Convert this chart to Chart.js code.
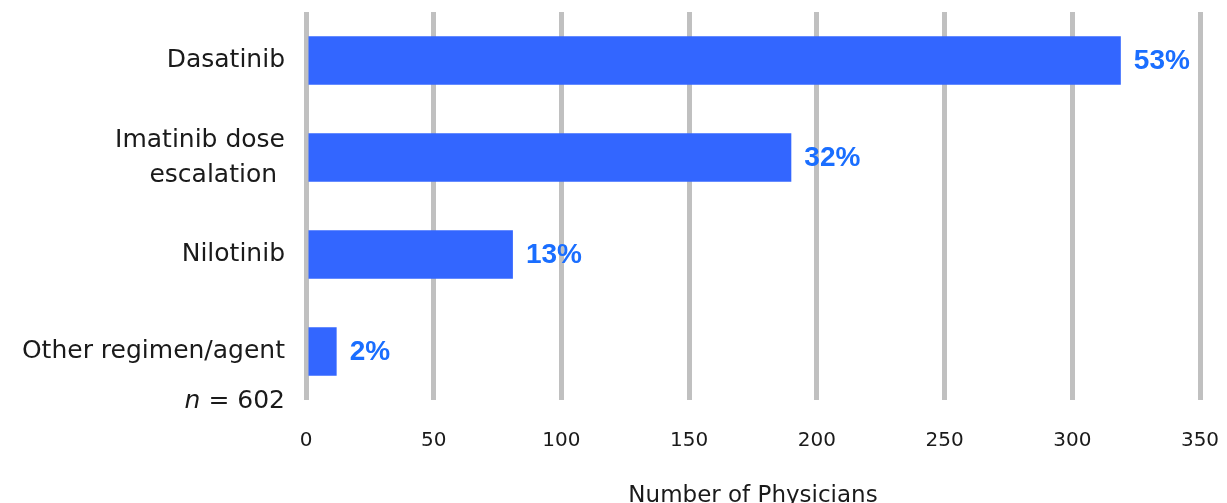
<!DOCTYPE html>
<html>
<head>
<meta charset="utf-8">
<script src="https://cdn.jsdelivr.net/npm/chart.js@4.4.1/dist/chart.umd.min.js"></script>
<style>
  html, body { margin: 0; padding: 0; background: #fff; }
  #wrap { width: 1227px; height: 503px; position: relative; }
</style>
</head>
<body>
<div id="wrap"><canvas id="chart"></canvas></div>
<script>
const categories = ['Dasatinib', ['Imatinib dose', 'escalation '], 'Nilotinib', 'Other regimen/agent'];
const physicians = [319, 190, 81, 12];
const percentLabels = ['53%', '32%', '13%', '2%'];
const xMax = 350;
const xStep = 50;
const sampleSize = 602;
const axisTitle = 'Number of Physicians';

const barBlue = '#3366FF';
const labelBlue = '#1A6EFF';
const gridGray = '#C0C0C0';

// percent labels at the end of each bar
const barLabels = {
  id: 'barLabels',
  afterDatasetsDraw(chart) {
    const ctx = chart.ctx;
    const meta = chart.getDatasetMeta(0);
    ctx.save();
    ctx.font = 'bold 28px "Liberation Sans", Arial, sans-serif';
    ctx.fillStyle = labelBlue;
    ctx.textAlign = 'left';
    ctx.textBaseline = 'middle';
    meta.data.forEach((bar, i) => {
      ctx.fillText(percentLabels[i], bar.x + 13, bar.y + 1);
    });
    ctx.restore();
  }
};

// "n = 602" under the category labels
const sampleNote = {
  id: 'sampleNote',
  afterDraw(chart) {
    const ctx = chart.ctx;
    const area = chart.chartArea;
    const right = area.left - 21;
    const y = area.bottom + 8;
    ctx.save();
    ctx.fillStyle = '#1a1a1a';
    ctx.textBaseline = 'alphabetic';
    ctx.textAlign = 'right';
    ctx.font = '25px "DejaVu Sans", sans-serif';
    const rest = ' = ' + sampleSize;
    ctx.fillText(rest, right, y);
    const w = ctx.measureText(rest).width;
    ctx.font = 'italic 25px "DejaVu Sans", sans-serif';
    ctx.fillText('n', right - w, y);
    ctx.restore();
  }
};

new Chart(document.getElementById('chart'), {
  type: 'bar',
  data: {
    labels: categories,
    datasets: [{
      data: physicians,
      backgroundColor: barBlue,
      borderWidth: 0,
      categoryPercentage: 1,
      barPercentage: 0.5,
    }],
  },
  options: {
    indexAxis: 'y',
    responsive: true,
    maintainAspectRatio: false,
    animation: false,
    layout: { padding: { top: 12, right: 27, left: 0, bottom: 0 } },
    plugins: {
      legend: { display: false },
      tooltip: { enabled: false },
    },
    scales: {
      x: {
        min: 0,
        max: xMax,
        ticks: {
          stepSize: xStep,
          padding: 29,
          color: '#1a1a1a',
          font: { family: '"DejaVu Sans", sans-serif', size: 20 },
        },
        grid: { color: gridGray, lineWidth: 5, drawTicks: false },
        border: { display: false },
        title: {
          display: true,
          text: axisTitle,
          color: '#1a1a1a',
          font: { family: '"DejaVu Sans", sans-serif', size: 23, lineHeight: 1 },
          padding: { top: 0, bottom: -5 },
        },
        afterFit(scale) {
          scale.height = 103;
          scale.paddingLeft = 0;
          scale.paddingRight = 0;
        },
      },
      y: {
        ticks: {
          padding: 21,
          color: '#1a1a1a',
          font: { family: '"DejaVu Sans", sans-serif', size: 25, lineHeight: 1.4 },
        },
        grid: { display: false, drawTicks: false },
        border: { display: false },
        afterFit(scale) {
          scale.width = 306;
          scale.paddingTop = 0;
          scale.paddingBottom = 0;
        },
      },
    },
  },
  plugins: [barLabels, sampleNote],
});
</script>
</body>
</html>
